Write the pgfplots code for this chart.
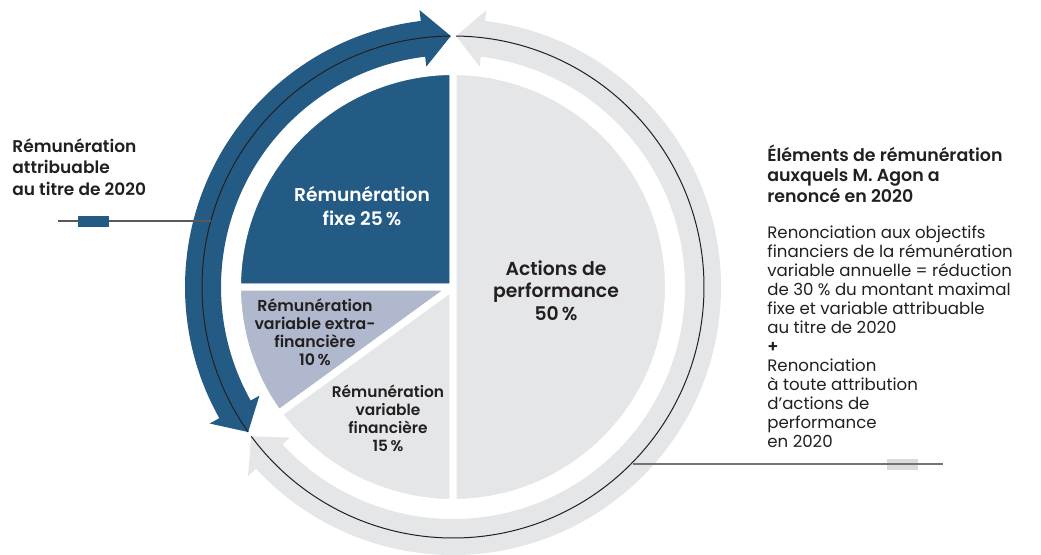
\documentclass[border=0pt]{standalone}
\usepackage{fontspec}
\setmainfont{Poppins}[BoldFont={Poppins SemiBold}]
\usepackage{pgfplots}
\pgfplotsset{compat=1.18}
\usepackage{pgfplotstable}
\usetikzlibrary{calc}

\definecolor{cblue}{HTML}{245B84}
\definecolor{cextra}{HTML}{AFB8CC}
\definecolor{cgray}{HTML}{E5E6E8}
\definecolor{ctext}{HTML}{231F20}

% parts of the 2020 remuneration, in %
\pgfplotstableread{
part value
fixe 25
extra 10
fin 15
actions 50
}\slices

\begin{document}
\begin{tikzpicture}
\pgfplotstablegetelem{0}{value}\of\slices \let\vFixe\pgfplotsretval
\pgfplotstablegetelem{1}{value}\of\slices \let\vExtra\pgfplotsretval
\pgfplotstablegetelem{2}{value}\of\slices \let\vFin\pgfplotsretval
\pgfplotstablegetelem{3}{value}\of\slices \let\vAct\pgfplotsretval
\pgfmathsetmacro\aA{90+3.6*\vFixe}
\pgfmathsetmacro\aB{\aA+3.6*\vExtra}
\pgfmathsetmacro\aC{\aB+3.6*\vFin}
\pgfmathsetmacro\aD{\aC+3.6*\vAct}
\useasboundingbox (0,0) rectangle (520.5pt,277pt);
\begin{axis}[
  width=520.5pt, height=277pt, scale only axis,
  xmin=0, xmax=1041, ymin=0, ymax=554,
  hide axis,
]
\coordinate (O) at (axis cs:453,267);

% slices
\filldraw[fill=cblue, draw=white, line width=3.5pt, line join=round]
  (O) -- ($(O)+(90:107.75pt)$) arc[start angle=90, end angle=\aA, radius=107.75pt] -- cycle;
\filldraw[fill=cextra, draw=white, line width=3.5pt, line join=round]
  (O) -- ($(O)+(\aA:107.75pt)$) arc[start angle=\aA, end angle=\aB, radius=107.75pt] -- cycle;
\filldraw[fill=cgray, draw=white, line width=3.5pt, line join=round]
  (O) -- ($(O)+(\aB:107.75pt)$) arc[start angle=\aB, end angle=\aC, radius=107.75pt] -- cycle;
\filldraw[fill=cgray, draw=white, line width=3.5pt, line join=round]
  (O) -- ($(O)+(\aC:107.75pt)$) arc[start angle=\aC, end angle=\aD, radius=107.75pt] -- cycle;

% blue double arrow
\fill[cblue] ($(O)+(90.5:125.5pt)$) -- ($(O)+(96.9:139.5pt)$) -- ($(O)+(96.9:134pt)$)
  arc[start angle=96.9, end angle=209.3, radius=134pt]
  -- ($(O)+(209.3:139.5pt)$) -- ($(O)+(215.3:125.5pt)$) -- ($(O)+(209.3:111pt)$)
  -- ($(O)+(209.3:116pt)$) arc[start angle=209.3, end angle=96.9, radius=116pt]
  -- ($(O)+(96.9:111pt)$) -- cycle;
% gray double arrow
\fill[cgray] ($(O)+(89.3:125.5pt)$) -- ($(O)+(83.1:139.5pt)$) -- ($(O)+(83.1:134pt)$)
  arc[start angle=83.1, end angle=-137.3, radius=134pt]
  -- ($(O)+(-137.3:139.5pt)$) -- ($(O)+(-143.5:125.5pt)$) -- ($(O)+(-137.3:111pt)$)
  -- ($(O)+(-137.3:116pt)$) arc[start angle=-137.3, end angle=83.1, radius=116pt]
  -- ($(O)+(83.1:111pt)$) -- cycle;

% thin circle
\draw[ctext, line width=0.5pt] ($(O)+(90.6:125.5pt)$) arc[start angle=90.6, end angle=215.3, radius=125.5pt];
\draw[ctext, line width=0.5pt] ($(O)+(89.3:125.5pt)$) arc[start angle=89.3, end angle=-143.5, radius=125.5pt];

% leader lines
\draw[black!65, line width=0.75pt] (axis cs:58,333) -- (axis cs:211,333);
\fill[cblue] (axis cs:78,327) rectangle (axis cs:109,338);
\fill[black!14] (axis cs:887,84) rectangle (axis cs:918,95);
\draw[black!55, line width=0.75pt] (axis cs:633,90) -- (axis cs:943,90);

% labels (base = baseline of the last line)
\node[anchor=base west, align=left, inner sep=0pt, text=ctext,
  font=\fontsize{8.5pt}{10.75pt}\selectfont\bfseries] at (axis cs:12,359)
  {Rémunération\\attribuable\\au titre de 2020};
\node[anchor=base west, align=left, inner sep=0pt, text=ctext,
  font=\fontsize{8.7pt}{10.25pt}\selectfont\bfseries] at (axis cs:767,352)
  {Éléments de rémunération\\auxquels M. Agon a\\renoncé en 2020};
\node[anchor=base west, align=left, inner sep=0pt, text=ctext,
  font=\fontsize{8.3pt}{9.5pt}\selectfont] at (axis cs:767,107)
  {Renonciation aux objectifs\\financiers de la rémunération\\variable annuelle = réduction\\de 30 \% du montant maximal\\fixe et variable attribuable\\au titre de 2020\\\textbf{+}\\Renonciation\\à toute attribution\\d\char39 actions de\\performance\\en 2020};

\node[anchor=base, align=center, inner sep=0pt, text=white,
  font=\fontsize{9.3pt}{11.75pt}\selectfont\bfseries] at (axis cs:362,329)
  {Rémunération\\fixe 25\,\%};
\node[anchor=base, align=center, inner sep=0pt, text=ctext,
  font=\fontsize{9.4pt}{11.25pt}\selectfont\bfseries] at (axis cs:556,234)
  {Actions de\\performance\\50\,\%};
\node[anchor=base, align=center, inner sep=0pt, text=ctext,
  font=\fontsize{7.9pt}{8.9pt}\selectfont\bfseries] at (axis cs:315,189)
  {Rémunération\\variable extra-\\financière\\10\,\%};
\node[anchor=base, align=center, inner sep=0pt, text=ctext,
  font=\fontsize{7.7pt}{9.1pt}\selectfont\bfseries] at (axis cs:388,102.3)
  {Rémunération\\variable\\financière\\15\,\%};
\end{axis}
\end{tikzpicture}
\end{document}
